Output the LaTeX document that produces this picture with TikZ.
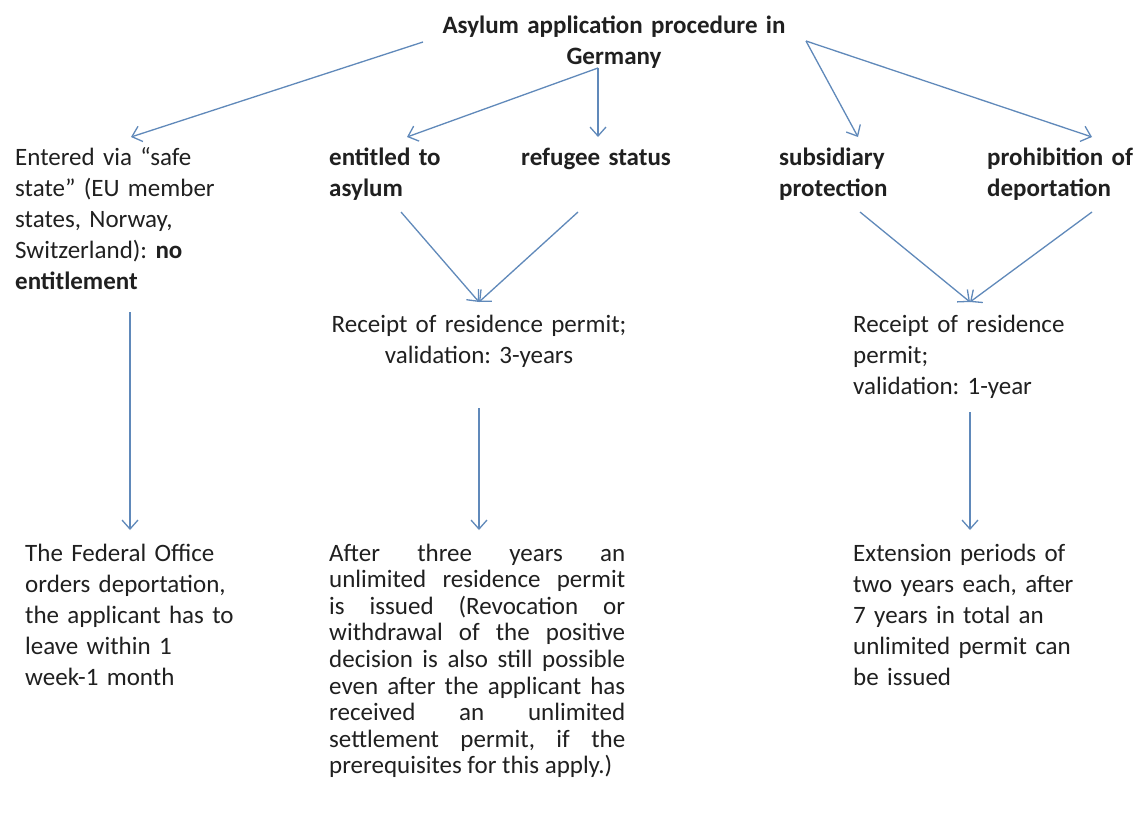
\documentclass[tikz,border=0pt]{standalone}
\usepackage{fontspec}
\setmainfont{Carlito}
\usetikzlibrary{arrows.meta,calc}
\definecolor{arr}{RGB}{96,137,186}
\definecolor{txt}{RGB}{32,32,32}
\frenchspacing
\begin{document}
\begin{tikzpicture}[x=1pt,y=-1pt,
  lbl/.style={inner sep=0pt, anchor=base west, align=left, text=txt,
    font=\fontsize{25}{31}\selectfont},
  hd/.style={lbl, font=\fontsize{25}{31}\selectfont\bfseries},
  conn/.style={draw=arr, line width=1.3pt,
    -{Straight Barb[length=9pt,width=16pt,line width=1.3pt]}}]
\useasboundingbox[fill=white] (0,0) rectangle (1141,814);

% nodes
\node[hd, anchor=base, align=center, text width=360pt] (title) at (614,33)
  {Asylum application procedure in\\Germany};
\node[lbl, text width=215pt] (entered) at (15,165)
  {Entered via “safe\\state” (EU member\\states, Norway,\\Switzerland): \textbf{no}\\\textbf{entitlement}};
\node[hd, text width=150pt] (entitled) at (329,165) {entitled to\\asylum};
\node[hd, text width=160pt] (refugee) at (521,165) {refugee status};
\node[hd, text width=150pt] (subsid) at (779,165) {subsidiary\\protection};
\node[hd, text width=160pt] (prohib) at (987,165) {prohibition of\\deportation};
\node[lbl, anchor=base, align=center, text width=330pt] (rec1) at (479,332)
  {Receipt of residence permit;\\validation: 3-years};
\node[lbl, text width=240pt] (rec2) at (853,332)
  {Receipt of residence\\permit;\\validation: 1-year};
\node[lbl, text width=240pt] (federal) at (25,561)
  {The Federal Office\\orders deportation,\\the applicant has to\\leave within 1\\week-1 month};
\node[lbl, align=justify, text width=296pt, font=\fontsize{25}{26.6}\selectfont] (after) at (329,561)
  {After three years an\linebreak unlimited residence permit\linebreak is issued (Revocation or\linebreak withdrawal of the positive\linebreak decision is also still possible\linebreak even after the applicant has\linebreak received an unlimited\linebreak settlement permit, if the\linebreak prerequisites for this apply.)};
\node[lbl, text width=260pt] (ext) at (853,561)
  {Extension periods of\\two years each, after\\7 years in total an\\unlimited permit can\\be issued};

% connectors
\draw[conn] ($(title.base)+(-191,9)$) -- ($(entered.base west)+(116,-28)$);
\draw[conn] ($(title.base)+(-16,35)$) -- ($(entitled.base west)+(78,-28)$);
\draw[conn] ($(title.base)+(-16,35)$) -- ($(refugee.base west)+(77,-28)$);
\draw[conn] ($(title.base)+(192,8)$) -- ($(subsid.base west)+(79,-28)$);
\draw[conn] ($(title.base)+(192,8)$) -- ($(prohib.base west)+(105,-28)$);

\draw[conn] ($(entitled.base west)+(72,47)$) -- ($(rec1.base)+(0,-30)$);
\draw[conn] ($(refugee.base west)+(57,47)$) -- ($(rec1.base)+(0,-30)$);
\draw[conn] ($(subsid.base west)+(81,47)$) -- ($(rec2.base west)+(117,-30)$);
\draw[conn] ($(prohib.base west)+(105,47)$) -- ($(rec2.base west)+(117,-30)$);

\draw[conn] ($(entered.base west)+(115,147)$) -- ($(federal.base west)+(105,-31)$);
\draw[conn] ($(rec1.base)+(0,76)$) -- ($(after.base west)+(150,-31)$);
\draw[conn] ($(rec2.base west)+(117,80)$) -- ($(ext.base west)+(117,-31)$);
\end{tikzpicture}
\end{document}
